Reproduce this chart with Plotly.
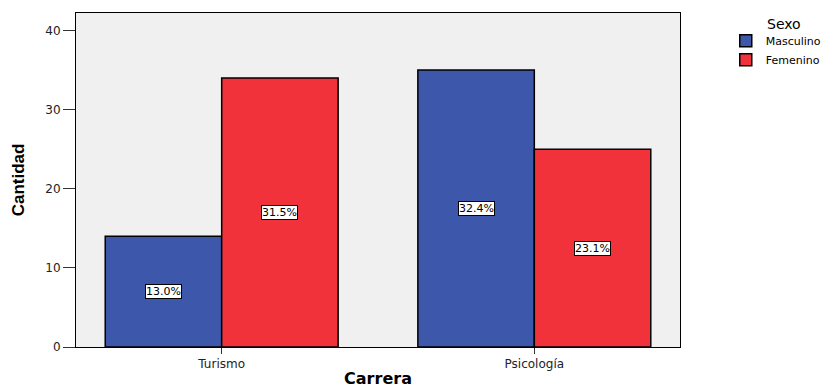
import plotly.graph_objects as go

categories = ["Turismo", "Psicología"]
masculino = [14, 35]
femenino = [34, 25]
pct_masculino = ["13.0%", "32.4%"]
pct_femenino = ["31.5%", "23.1%"]
series_names = ["Masculino", "Femenino"]
y_ticks = [0, 10, 20, 30, 40]

blue = "#3d57aa"
red = "#f1323b"
bargap = 0.255
FONT = "DejaVu Sans, Arial, sans-serif"

fig = go.Figure()
fig.add_trace(go.Bar(x=categories, y=masculino, name=series_names[0],
                     marker=dict(color=blue, line=dict(color="black", width=1.5))))
fig.add_trace(go.Bar(x=categories, y=femenino, name=series_names[1],
                     marker=dict(color=red, line=dict(color="black", width=1.5))))

bw = (1 - bargap) / 2
for i in range(len(categories)):
    for vals, pcts, off in ((masculino, pct_masculino, -bw / 2), (femenino, pct_femenino, bw / 2)):
        fig.add_annotation(x=i + off, y=vals[i] / 2, xref="x", yref="y", text=pcts[i],
                           showarrow=False, bgcolor="white", bordercolor="black",
                           borderwidth=1, borderpad=0,
                           font=dict(family=FONT, size=11, color="black"))

fig.add_annotation(x=(766 - 76) / 605, y=1 - (24 - 13) / 334, xref="paper", yref="paper",
                   xanchor="left", yanchor="middle", text="Sexo", showarrow=False,
                   font=dict(family=FONT, size=14, color="black"))

fig.update_layout(
    width=838, height=390,
    margin=dict(l=76, r=157, t=13, b=43),
    paper_bgcolor="white", plot_bgcolor="#f0f0f0",
    barmode="group", bargap=bargap, bargroupgap=0,
    font=dict(family=FONT, size=12, color="#222"),
    legend=dict(x=1.074, y=0.96, xanchor="left", yanchor="top",
                font=dict(family=FONT, size=11, color="black"), bgcolor="rgba(0,0,0,0)",
                tracegroupgap=0),
    xaxis=dict(range=[-0.466, 1.466], showline=True, linecolor="black", linewidth=1,
               mirror=True, ticks="outside", ticklen=6, tickcolor="#333", automargin=False,
               title=dict(text="<b>Carrera</b>", font=dict(family=FONT, size=16, color="black"), standoff=2),
               tickfont=dict(family=FONT, size=12, color="#222")),
    yaxis=dict(range=[0, 42.2], tickvals=y_ticks, showline=True, linecolor="black",
               linewidth=1, mirror=True, ticks="outside", ticklen=12, tickcolor="#333",
               showgrid=False, zeroline=False, automargin=False,
               title=dict(text="<b>Cantidad</b>",
                          font=dict(family="Liberation Sans Narrow, Arial Narrow, Liberation Sans, Arial", size=17, color="black"),
                          standoff=16),
               tickfont=dict(family=FONT, size=12, color="#222")),
)

fig.write_html("out.html")
